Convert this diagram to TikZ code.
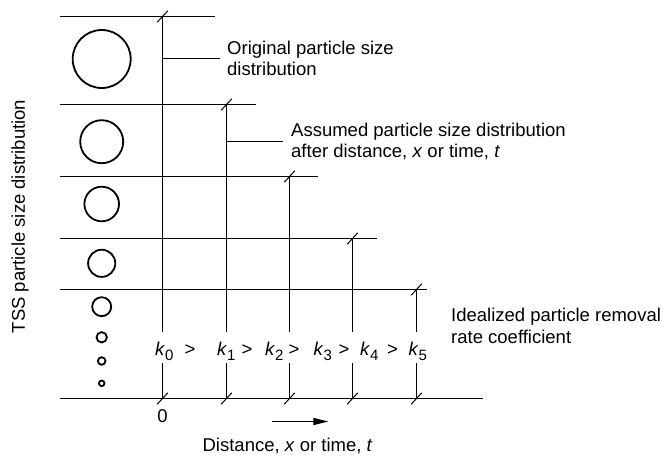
\documentclass[tikz,border=0pt]{standalone}
\usepackage{fontspec}
\setmainfont{Liberation Sans}
\usetikzlibrary{arrows.meta}
\newcommand\mytxt{\fontsize{18.5}{21.5}\selectfont}
\newcommand\kk[1]{\textit{k}\raisebox{-5.5pt}{\fontsize{15}{15}\selectfont #1}}
\begin{document}
\begin{tikzpicture}[x=1pt,y=-1pt,
  grid/.style={line width=1.2pt},
  ring/.style={line width=1.8pt},
  tick/.style={line width=1pt},
  lbl/.style={font=\mytxt, inner sep=0pt, align=left},
  gt/.style={font=\mytxt, inner sep=0pt}]
\useasboundingbox (0,0) rectangle (664,456);
% horizontal lines
\coordinate (h0l) at (60,16.5);  \coordinate (h0r) at (215,16.5);
\coordinate (h1l) at (60,104.5); \coordinate (h1r) at (256,104.5);
\coordinate (h2l) at (60,176.5); \coordinate (h2r) at (318,176.5);
\coordinate (h3l) at (60,238.5); \coordinate (h3r) at (377,238.5);
\coordinate (h4l) at (60,289.5); \coordinate (h4r) at (427,289.5);
\coordinate (hbl) at (60,398.5); \coordinate (hbr) at (483,398.5);
\foreach \n in {h0,h1,h2,h3,h4,hb} \draw[grid] (\n l) -- (\n r);
% verticals (tops, gap ends, bottoms)
\foreach \i/\x/\y in {0/162.5/16.5,1/226.5/104.5,2/289.5/176.5,3/352.5/238.5,4/416.5/289.5}{
  \coordinate (vt\i) at (\x,\y);
  \coordinate (vg\i) at (\x,332);
  \coordinate (vh\i) at (\x,363);
  \coordinate (vb\i) at (\x,398.5);
  \draw[grid] (vt\i) -- (vg\i);
  \draw[grid] (vh\i) -- (vb\i);
  \draw[tick] ([shift={(-5.3,5.7)}]vt\i) -- ([shift={(5.3,-5.7)}]vt\i);
  \draw[tick] ([shift={(-5.3,5.7)}]vb\i) -- ([shift={(5.3,-5.7)}]vb\i);
}
% circles
\foreach \y/\r in {59/29,141.7/21.5,204/17.3,263.3/13.6,306.7/9.5,337.3/5.2,361/3.8,383.3/2.8}
  \draw[ring] (101.7,\y) circle[radius=\r];
% labels with leaders
\node[lbl, anchor=west, inner xsep=7pt] (orig) at (220,58.5) {Original particle size\\distribution};
\coordinate (o0) at (162.5,58.5);
\draw[line width=1pt] (o0) -- (orig.west);
\node[lbl, anchor=west, inner xsep=8pt] (assu) at (283,141.5) {Assumed particle size distribution\\after distance, \textit{x} or time, \textit{t}};
\coordinate (a1) at (226.5,141.5);
\draw[line width=1pt] (a1) -- (assu.west);
\node[lbl, anchor=base west] (ideal) at (451,343.3) {Idealized particle removal\\rate coefficient};
% k chain
\foreach \i/\x in {0/155,1/217,2/265,3/313.3,4/360,5/408.3}
  \node[gt, anchor=base west] (k\i) at (\x,355) {\kk{\i}};
\foreach \i/\x in {1/190,2/247,3/294,4/344,5/392.5}
  \node[gt, anchor=base] (g\i) at (\x,355) {>};
% axis
\node[gt] (zero) at (162.5,416) {0};
\coordinate (ar0) at (271.7,421.5);
\coordinate (ar1) at (328.3,421.5);
\draw[line width=1.3pt, -{Triangle[length=15pt,width=7pt]}] (ar0) -- (ar1);
\node[gt, anchor=base] (dist) at (287.5,451) {Distance, \textit{x} or time, \textit{t}};
\node[gt, rotate=90] (tss) at (20,216.5) {TSS particle size distribution};
\end{tikzpicture}
\end{document}
